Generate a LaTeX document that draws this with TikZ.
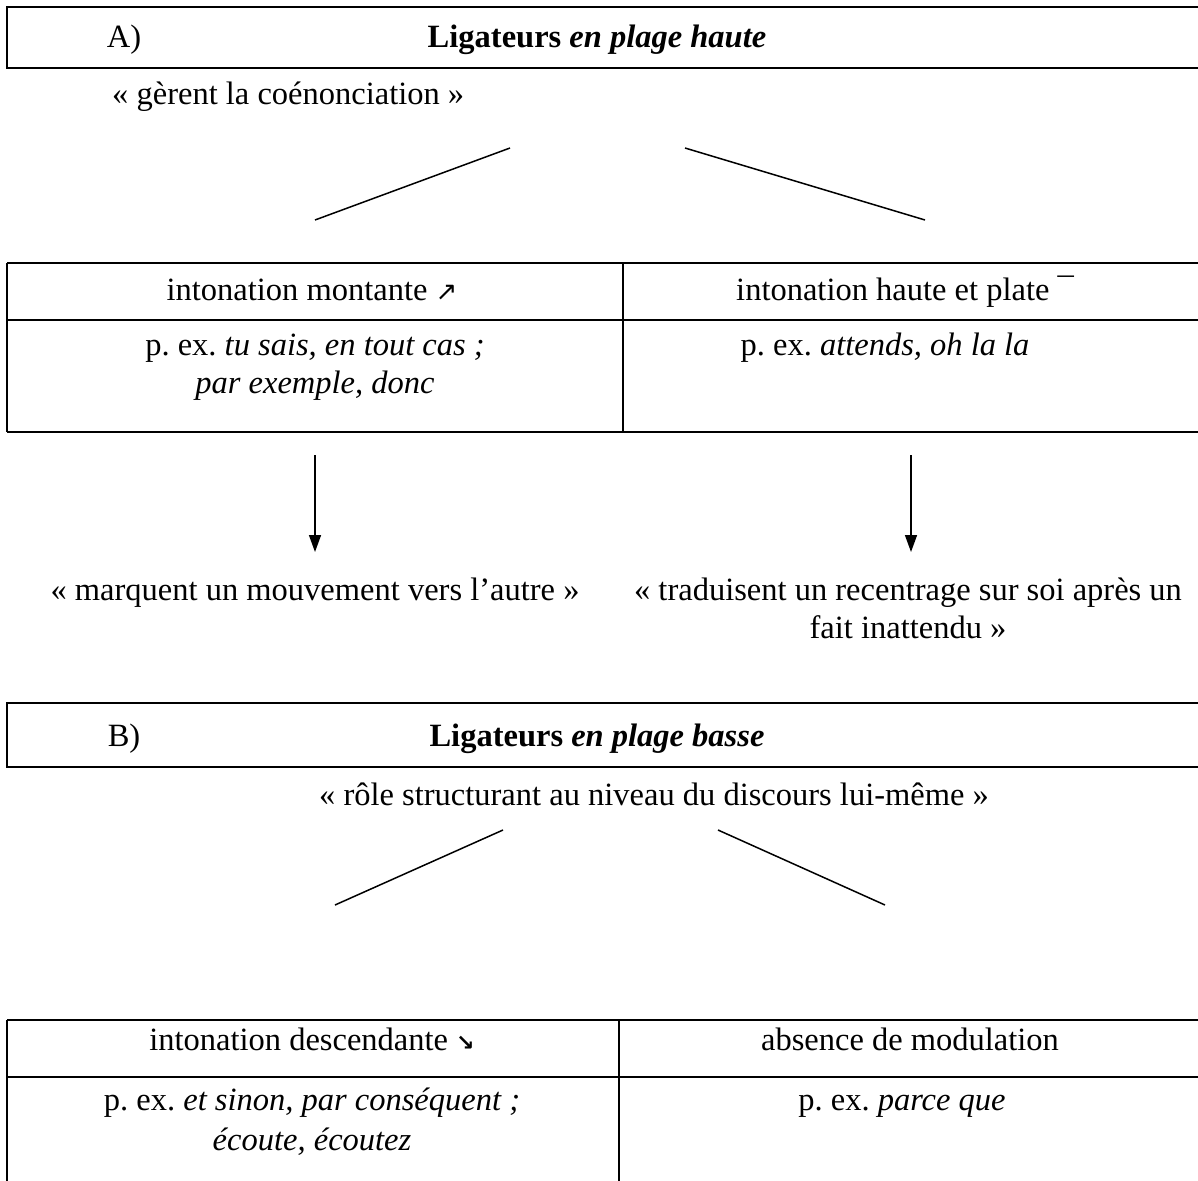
\documentclass[tikz,border=0pt]{standalone}
\usepackage{fontspec}
\setmainfont{Liberation Serif}
\newfontfamily\symfont{DejaVu Sans}
\usetikzlibrary{arrows.meta}
\begin{document}
\begin{tikzpicture}[x=1pt,y=-1pt,
  txt/.style={font=\fontsize{32.5}{38}\selectfont\frenchspacing, inner sep=0pt, anchor=base},
  frame/.style={line width=2.5pt},
  conn/.style={line width=1.5pt},
  arr/.style={line width=1.5pt, -{Triangle[length=17pt,width=12pt]}}]
\useasboundingbox (0,0) rectangle (1198,1180);
\clip (0,0) rectangle (1198,1180);
% ---------- Part A ----------
\draw[frame] (7,7) rectangle (1215,68);
\node[txt] (lblA) at (124,48) {A)};
\node[txt] (titA) at (597,48) {\textbf{Ligateurs} \textbf{\textit{en plage haute}}};
\node[txt, anchor=base west] (subA) at (112,105) {« gèrent la coénonciation »};
\coordinate (a1s) at (510,148); \coordinate (a1e) at (315,220);
\coordinate (a2s) at (685,148); \coordinate (a2e) at (925,220);
\draw[conn] (a1s) -- (a1e);
\draw[conn] (a2s) -- (a2e);
% table A
\draw[frame] (7,263) -- (1215,263);
\draw[frame] (7,320) -- (1215,320);
\draw[frame] (7,432) -- (1215,432);
\draw[frame] (7,263) -- (7,432);
\draw[frame] (623,263) -- (623,432);
\node[txt] (hA1) at (312,300) {intonation montante {\symfont\fontsize{26}{28}\selectfont ↗}};
\node[txt] (hA2) at (905,300) {intonation haute et plate ¯};
\node[txt] (eA1) at (315,355) {p. ex. \textit{tu sais, en tout cas ;}};
\node[txt] (eA1b) at (315,393) {\textit{par exemple, donc}};
\node[txt] (eA2) at (885,355) {p. ex. \textit{attends, oh la la}};
\coordinate (r1s) at (315,455); \coordinate (r1e) at (315,552);
\coordinate (r2s) at (911,455); \coordinate (r2e) at (911,552);
\draw[arr] (r1s) -- (r1e);
\draw[arr] (r2s) -- (r2e);
\node[txt] (cA1) at (315,600) {« marquent un mouvement vers l’autre »};
\node[txt] (cA2) at (908,600) {« traduisent un recentrage sur soi après un};
\node[txt] (cA2b) at (908,638) {fait inattendu »};
% ---------- Part B ----------
\draw[frame] (7,703) rectangle (1215,767);
\node[txt] (lblB) at (124,746) {B)};
\node[txt] (titB) at (597,746) {\textbf{Ligateurs} \textbf{\textit{en plage basse}}};
\node[txt] (subB) at (654,805) {« rôle structurant au niveau du discours lui-même »};
\coordinate (b1s) at (503,830); \coordinate (b1e) at (335,905);
\coordinate (b2s) at (718,830); \coordinate (b2e) at (885,905);
\draw[conn] (b1s) -- (b1e);
\draw[conn] (b2s) -- (b2e);
% table B
\draw[frame] (7,1020) -- (1215,1020);
\draw[frame] (7,1077) -- (1215,1077);
\draw[frame] (7,1020) -- (7,1190);
\draw[frame] (619,1020) -- (619,1190);
\node[txt] (hB1) at (312,1050) {intonation descendante {\symfont\bfseries\fontsize{22}{28}\selectfont ↘}};
\node[txt] (hB2) at (910,1050) {absence de modulation};
\node[txt] (eB1) at (312,1110) {p. ex. \textit{et sinon, par conséquent ;}};
\node[txt] (eB1b) at (312,1150) {\textit{écoute, écoutez}};
\node[txt] (eB2) at (902,1110) {p. ex. \textit{parce que}};
\end{tikzpicture}
\end{document}
